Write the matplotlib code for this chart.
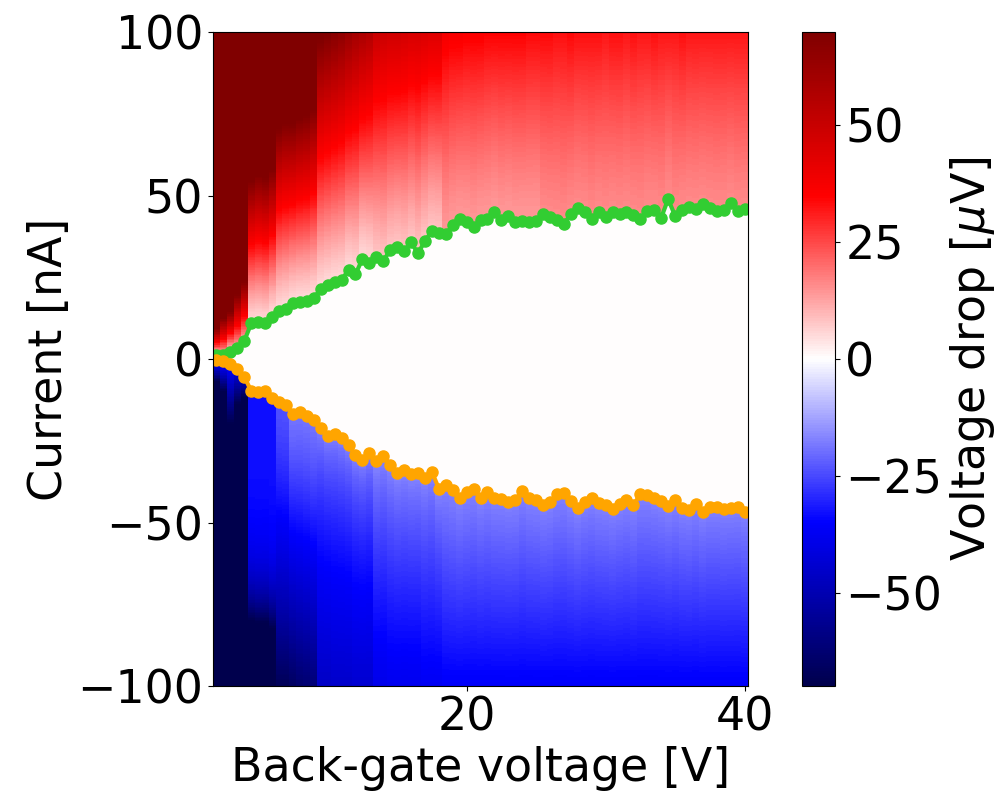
import numpy as np
import matplotlib.pyplot as plt

plt.rcParams['font.size'] = 33

# back-gate voltage of each measured column [V]
gate_v = np.linspace(2, 40, 77)

ic_pos = [1.2, 1.2, 2.2, 3.3, 5.5, 10.9, 11.2, 10.9, 12.9, 14.7,
          15.3, 17.0, 17.5, 17.7, 18.6, 21.4, 22.6, 23.7, 24.2, 27.2,
          25.9, 30.6, 29.3, 31.3, 30.0,
          33.3, 34.3, 33.0, 35.7, 32.3, 36.1, 39.1, 38.4, 38.1, 41.0,
          42.8, 42.0, 40.5, 42.5, 42.8, 44.9, 42.5, 43.8, 42.0, 42.2,
          42.0, 42.2, 44.2, 43.5, 42.5, 41.2, 44.4, 46.1,
          45.1, 42.7, 45.1, 43.3, 45.1, 44.2, 45.1, 44.0, 42.7, 45.3,
          45.6, 43.2, 48.9, 43.8, 45.6, 46.6, 45.9, 47.3, 46.3, 45.3,
          45.6, 47.6, 45.3, 45.9]
ic_neg = [-0.3, -0.6, -1.6, -3.1, -5.4, -9.8, -10.0, -9.8, -12.0, -13.2,
          -14.1, -16.9, -16.3, -17.3, -18.7, -21.0, -23.4, -23.0, -24.3, -26.3,
          -29.4, -30.9, -28.8, -31.2, -29.6,
          -32.4, -35.0, -33.9, -35.2, -35.0, -36.5, -34.5, -39.6, -38.5, -40.1,
          -42.6, -40.8, -39.8, -42.4, -40.8, -42.6, -42.8, -43.6, -43.1, -40.4,
          -42.6, -43.1, -44.6, -43.8, -41.4, -41.1, -43.4, -45.7,
          -43.6, -42.4, -44.1, -44.6, -45.9, -44.4, -43.1, -44.6, -41.4, -41.6,
          -42.4, -43.4, -44.9, -43.1, -45.7, -46.2, -44.4, -46.9, -45.2, -45.2,
          -45.9, -45.5, -45.2, -46.9]

# per column: |V| just past switching, |V| at 100 nA [uV], and curvature
edge_pos = [5, 9, 4, 10, 10] + [5] * 18 + [8] * 10 + [14] * 14 + [16] * 30
top_pos = [795, 540, 532, 363, 322,
           170, 162, 165, 158,
           118, 114, 116, 112, 110, 106,
           72, 70, 68, 66, 63, 60, 58, 56,
           50, 49, 48, 48, 47, 46, 46, 45, 44, 44,
           38, 37, 37, 36, 36, 36, 35, 35, 35, 35, 35, 35, 34, 34,
           34, 34, 33, 33, 34, 33, 33, 33, 33, 32, 33, 33, 32, 33, 32,
           32, 33, 32, 32, 32, 33, 32, 32, 32, 32, 32, 32, 32, 32, 32]
curv_pos = [1.0] * 5 + [1.3] * 10 + [1.2] * 18 + [1.3] * 44

edge_neg = [30, 30, 35, 40, 45] + [33] * 4 + [24] * 2 + [19] * 4 \
    + [16] * 18 + [17] * 44
top_neg = [625, 453, 222, 307, 403,
           156, 150, 150, 140,
           68, 68,
           66, 64, 63, 62,
           46, 46, 45, 45, 45, 44, 44, 44,
           39, 39, 38, 38, 38, 38, 38, 37, 37, 37] + [36] * 44
curv_neg = [1.0] * 5 + [4.8] * 4 + [1.5] * 2 + [1.3] * 4 + [0.7] * 8 \
    + [0.8] * 10 + [1.0] * 44

current = np.linspace(-100, 100, 401)

# build the V(I) map column by column
vmap = np.zeros((len(current), len(gate_v)))
for j in range(len(gate_v)):
    up = current > ic_pos[j]
    t = (current[up] - ic_pos[j]) / (100 - ic_pos[j])
    vmap[up, j] = edge_pos[j] + (top_pos[j] - edge_pos[j]) * t ** curv_pos[j]
    dn = current < ic_neg[j]
    t = (ic_neg[j] - current[dn]) / (100 + ic_neg[j])
    vmap[dn, j] = -(edge_neg[j] + (top_neg[j] - edge_neg[j]) * t ** curv_neg[j])

fig = plt.figure(figsize=(10.01, 7.93), dpi=100)
ax = fig.add_axes([0.2128, 0.1349, 0.5345, 0.8247])
cax = fig.add_axes([0.8012, 0.1349, 0.0334, 0.8247])

mesh = ax.pcolormesh(gate_v, current, vmap, shading='nearest',
                     cmap='seismic', vmin=-70, vmax=70)
ax.plot(gate_v, ic_pos, 'o-', color='limegreen', lw=3, ms=8)
ax.plot(gate_v, ic_neg, 'o-', color='orange', lw=3, ms=8)

ax.set_ylim(-100, 100)
ax.set_xticks([20, 40])
ax.set_yticks([-100, -50, 0, 50, 100])
ax.set_xlabel('Back-gate voltage [V]')
ax.set_ylabel('Current [nA]')

cb = fig.colorbar(mesh, cax=cax)
cb.set_ticks([-50, -25, 0, 25, 50])
cb.set_label('Voltage drop [$\\mu$V]')

plt.savefig('out.png', dpi=100)
